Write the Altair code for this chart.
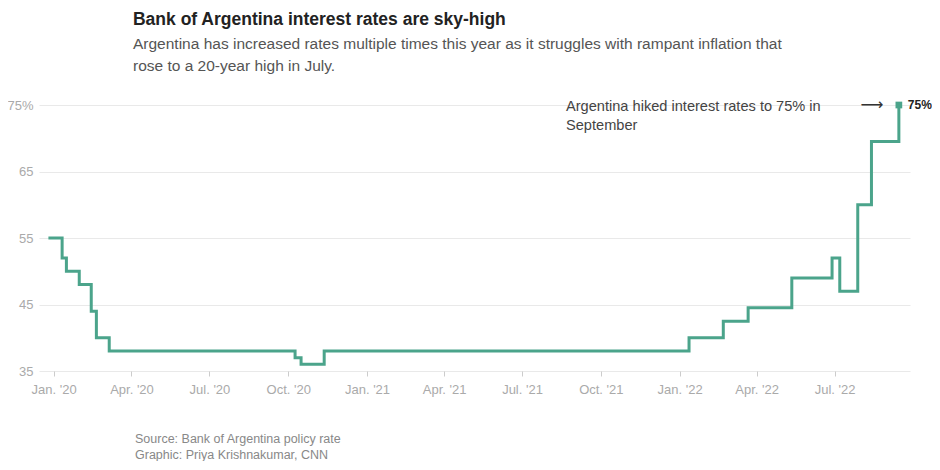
import altair as alt
import pandas as pd

dates = ["2019-12-26", "2020-01-11", "2020-01-16", "2020-01-31", "2020-02-14",
         "2020-02-20", "2020-03-06", "2020-10-09", "2020-10-16", "2020-11-12",
         "2022-01-12", "2022-02-21", "2022-03-22", "2022-05-12", "2022-06-28",
         "2022-07-07", "2022-07-28", "2022-08-13", "2022-09-14"]
rates = [55, 52, 50, 48, 44, 40, 38, 37, 36, 38,
         40, 42.5, 44.5, 49, 52, 47, 60, 69.5, 75]

y_ticks = [35, 45, 55, 65, 75]
x_ticks = [(2020, 1), (2020, 4), (2020, 7), (2020, 10), (2021, 1), (2021, 4),
           (2021, 7), (2021, 10), (2022, 1), (2022, 4), (2022, 7)]

title = "Bank of Argentina interest rates are sky-high"
subtitle = ["Argentina has increased rates multiple times this year as it struggles with rampant inflation that",
            "rose to a 20-year high in July."]
note_lines = ["Argentina hiked interest rates to 75% in", "September"]
source_lines = ["Source: Bank of Argentina policy rate", "Graphic: Priya Krishnakumar, CNN"]

df = pd.DataFrame({"date": [d + "T00:00:00" for d in dates], "rate": rates})
last = df.tail(1).copy()
last["label"] = "75%"

FONT = "Liberation Sans"
TEAL = "#4ba48b"
W, H = 871, 266

xscale = alt.Scale(domain=[alt.DateTime(year=2019, month=12, date=15),
                           alt.DateTime(year=2022, month=9, date=27)])
yscale = alt.Scale(domain=[35, 75], nice=False)

xenc = alt.X("date:T", scale=xscale, title=None,
             axis=alt.Axis(values=[alt.DateTime(year=y, month=m, date=1) for y, m in x_ticks],
                           format="%b. '%y", grid=False, domain=False,
                           tickColor="#cccccc", tickSize=5, labelPadding=7,
                           labelColor="#aaaaaa", labelFontSize=13, labelFont=FONT))
yenc = alt.Y("rate:Q", scale=yscale, title=None,
             axis=alt.Axis(values=y_ticks, labelExpr="datum.value == 75 ? '75%' : datum.value",
                           domain=False, ticks=False, gridColor="#e9e9e9", labelPadding=6,
                           labelColor="#aaaaaa", labelFontSize=13, labelFont=FONT))

line = alt.Chart(df).mark_line(interpolate="step-after", color=TEAL, strokeWidth=3).encode(
    x=xenc, y=yenc)

square = alt.Chart(last).mark_square(color=TEAL, size=45, opacity=1).encode(
    x="date:T", y="rate:Q")

end_label = alt.Chart(last).mark_text(align="left", dx=9, fontSize=12, fontWeight="bold",
                                      color="#222222", font=FONT).encode(
    x="date:T", y="rate:Q", text="label:N")

note = alt.Chart(pd.DataFrame({"t": [note_lines]})).mark_text(
    align="left", baseline="middle", fontSize=14.6, color="#444444", font=FONT,
    lineHeight=19).encode(x=alt.value(527), y=alt.value(2), text="t")

arrow = alt.Chart(pd.DataFrame({"t": ["⟶"]})).mark_text(
    align="center", baseline="middle", fontSize=16, color="#333333", font="DejaVu Sans").encode(
    x=alt.value(833), y=alt.value(0), text="t")

source = alt.Chart(pd.DataFrame({"t": [source_lines]})).mark_text(
    align="left", baseline="middle", fontSize=12.5, color="#888888", font=FONT,
    lineHeight=16).encode(x=alt.value(96), y=alt.value(334), text="t")

chart = alt.layer(line, square, end_label, note, arrow, source).properties(
    width=W, height=H,
    autosize=alt.AutoSizeParams(type="none"),
    padding={"left": 31, "top": 97, "right": 22, "bottom": 90},
    title=alt.TitleParams(text=title, subtitle=subtitle, anchor="start", dx=126, offset=23,
                          font=FONT, fontSize=17.5, fontWeight="bold", color="#222222",
                          subtitleFont=FONT, subtitleFontSize=15.5, subtitleColor="#555555",
                          subtitleLineHeight=21.5, subtitlePadding=9),
).configure_view(stroke=None)

chart.save("out.html", embed_options={"renderer": "svg", "actions": False})
